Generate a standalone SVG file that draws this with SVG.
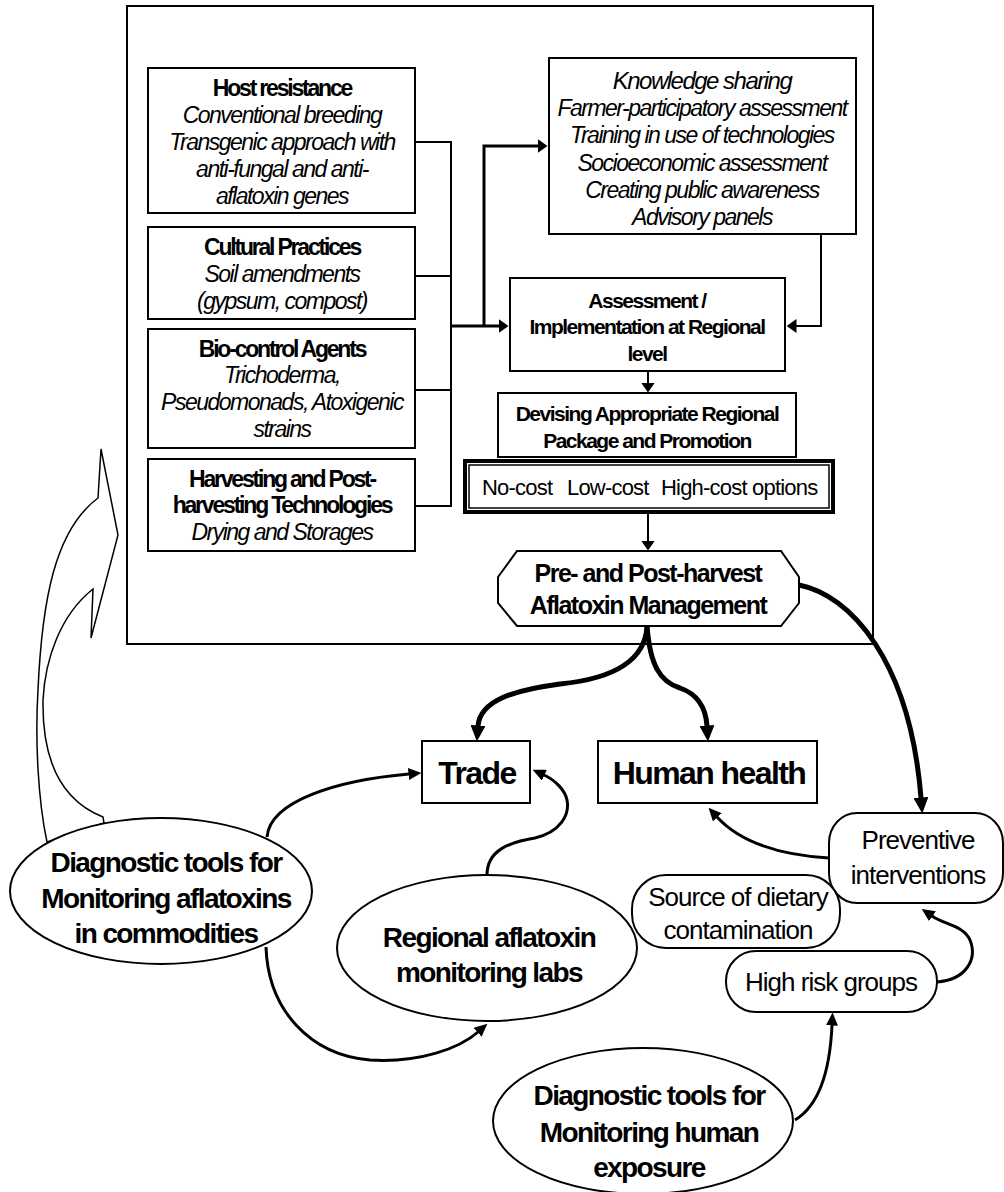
<svg xmlns="http://www.w3.org/2000/svg" width="1004" height="1192" viewBox="0 0 1004 1192">
<defs>
<style>
text{font-family:"Liberation Sans",Arial,sans-serif;fill:#000;text-anchor:middle}
.t{font-size:23px}
.b{font-weight:bold;letter-spacing:-2.2px}
.i{font-style:italic;letter-spacing:-1.5px}
.m{font-size:21px;font-weight:bold;letter-spacing:-1.5px}
.c{font-size:22px;letter-spacing:-0.8px;text-anchor:start}
.h{font-size:25px;font-weight:bold;letter-spacing:-1.5px}
.big{font-size:32px;font-weight:bold;letter-spacing:-1.6px}
.r{font-size:26px;letter-spacing:-1px}
.e{font-size:28px;font-weight:bold;letter-spacing:-1.6px}
.box{fill:#fff;stroke:#000;stroke-width:2}
.ln{fill:none;stroke:#000;stroke-width:2}
.ln3{fill:none;stroke:#000;stroke-width:3}
.thick{fill:none;stroke:#000;stroke-width:5}
</style>
<marker id="at" markerUnits="userSpaceOnUse" markerWidth="10" markerHeight="14" viewBox="0 0 10 14" refX="0.5" refY="7" orient="auto"><path d="M0,0 L10,7 L0,14 Z" fill="#000"/></marker>
<marker id="am" markerUnits="userSpaceOnUse" markerWidth="13" markerHeight="12" viewBox="0 0 13 12" refX="0.5" refY="6" orient="auto"><path d="M0,0 L13,6 L0,12 Z" fill="#000"/></marker>
<marker id="ab" markerUnits="userSpaceOnUse" markerWidth="16" markerHeight="15" viewBox="0 0 16 15" refX="0.5" refY="7.5" orient="auto"><path d="M0,0 L16,7.5 L0,15 Z" fill="#000"/></marker>
</defs>
<rect width="1004" height="1192" fill="#fff"/>

<g id="frame"><rect x="127" y="6" width="746" height="638" fill="none" stroke="#000" stroke-width="2"/></g>

<g id="connectors">
<path class="ln" d="M415,142 H451 M415,276 H451 M415,390 H451 M415,506 H451 M451,141 V507"/>
<path class="ln3" d="M451,326 H499" marker-end="url(#at)"/>
<path class="ln3" d="M484,327 V146 H538" marker-end="url(#at)"/>
<path class="ln" d="M821,234 V326 H796" marker-end="url(#at)"/>
<path class="ln" d="M648,371 V383" marker-end="url(#at)"/>
<path class="ln" d="M648,514 V541" marker-end="url(#at)"/>
<path class="thick" d="M647,626 C645,668 600,680 560,684 C515,690 480,700 478,726" marker-end="url(#ab)"/>
<path class="thick" d="M647,626 C650,665 660,682 680,688 C700,695 706,710 707,726" marker-end="url(#ab)"/>
<path class="thick" d="M799,585 C850,595 910,660 921,798" marker-end="url(#ab)"/>
<path class="ln3" d="M829,858 C780,855 740,842 717,817" marker-end="url(#am)"/>
<path class="ln3" d="M267,837 C270,800 340,780 409,774" marker-end="url(#am)"/>
<path class="ln3" d="M266,947 C268,1010 310,1055 370,1060 C420,1063 460,1048 478,1032" marker-end="url(#am)"/>
<path class="ln3" d="M487,875 C487,850 510,842 535,838 C560,832 570,815 567,800 C565,790 555,780 544,775" marker-end="url(#am)"/>
<path class="ln3" d="M795,1120 C820,1105 830,1070 832,1025" marker-end="url(#am)"/>
<path class="ln3" d="M937,982 C965,980 978,960 970,940 C963,925 945,925 932,916" marker-end="url(#am)"/>
<path d="M47,842 C38,800 35,740 38,690 C42,600 55,530 98,498 L101,449 L118,535 L91,638 L93,589 C60,615 45,660 43,700 C42,760 60,800 103,817 L104,823 Z" fill="#fff" stroke="#000" stroke-width="1.5"/>
</g>

<g id="host">
<rect class="box" x="148" y="68" width="267" height="145"/>
<text class="t b" x="282" y="96">Host resistance</text>
<text class="t i" x="282" y="123">Conventional breeding</text>
<text class="t i" x="282" y="150">Transgenic approach with</text>
<text class="t i" x="282" y="177">anti-fungal and anti-</text>
<text class="t i" x="282" y="204">aflatoxin genes</text>
</g>
<g id="cultural">
<rect class="box" x="148" y="227" width="267" height="92"/>
<text class="t b" x="282" y="255">Cultural Practices</text>
<text class="t i" x="282" y="282">Soil amendments</text>
<text class="t i" x="282" y="309">(gypsum, compost)</text>
</g>
<g id="biocontrol">
<rect class="box" x="148" y="329" width="267" height="119"/>
<text class="t b" x="282" y="357">Bio-control Agents</text>
<text class="t i" x="282" y="383">Trichoderma,</text>
<text class="t i" x="282" y="410">Pseudomonads, Atoxigenic</text>
<text class="t i" x="282" y="437">strains</text>
</g>
<g id="harvesting">
<rect class="box" x="148" y="459" width="267" height="92"/>
<text class="t b" x="282" y="487">Harvesting and Post-</text>
<text class="t b" x="282" y="513">harvesting Technologies</text>
<text class="t i" x="282" y="540">Drying and Storages</text>
</g>
<g id="knowledge">
<rect class="box" x="549" y="58" width="307" height="176"/>
<text class="i" style="font-size:24px" x="702" y="89">Knowledge sharing</text>
<text class="t i" x="702" y="116">Farmer-participatory assessment</text>
<text class="t i" x="702" y="143">Training in use of technologies</text>
<text class="t i" x="702" y="171">Socioeconomic assessment</text>
<text class="t i" x="702" y="198">Creating public awareness</text>
<text class="t i" x="702" y="225">Advisory panels</text>
</g>
<g id="assessment">
<rect class="box" x="510" y="278" width="275" height="93"/>
<text class="m" x="647" y="308">Assessment /</text>
<text class="m" x="647" y="334">Implementation at Regional</text>
<text class="m" x="647" y="361">level</text>
</g>
<g id="devising">
<rect class="box" x="498" y="393" width="298" height="64"/>
<text class="m" x="647" y="421">Devising Appropriate Regional</text>
<text class="m" x="647" y="448">Package and Promotion</text>
</g>
<g id="options">
<rect x="465" y="461" width="368" height="51" fill="#fff" stroke="#000" stroke-width="4"/>
<rect x="469" y="465" width="360" height="43" fill="none" stroke="#000" stroke-width="1.5"/>
<text class="c" x="482" y="495">No-cost</text>
<text class="c" x="567" y="495">Low-cost</text>
<text class="c" x="661" y="495">High-cost options</text>
</g>
<g id="management">
<path class="box" d="M517,551 L781,551 L799,577 L799,603 L781,626 L517,626 L498,603 L498,577 Z"/>
<text class="h" x="648" y="582">Pre- and Post-harvest</text>
<text class="h" x="648" y="614">Aflatoxin Management</text>
</g>
<g id="trade">
<rect class="box" x="422" y="741" width="108" height="62"/>
<text class="big" x="477" y="784">Trade</text>
</g>
<g id="health">
<rect class="box" x="598" y="741" width="219" height="62"/>
<text class="big" x="709" y="784">Human health</text>
</g>
<g id="preventive">
<rect class="box" x="829" y="813" width="174" height="90" rx="28" ry="30"/>
<text class="r" x="918" y="849">Preventive</text>
<text class="r" x="918" y="884">interventions</text>
</g>
<g id="source">
<rect class="box" x="632" y="875" width="208" height="73" rx="34" ry="34"/>
<text class="r" x="738" y="906">Source of dietary</text>
<text class="r" x="738" y="939">contamination</text>
</g>
<g id="highrisk">
<rect class="box" x="726" y="951" width="211" height="61" rx="30" ry="30"/>
<text class="r" x="831" y="991">High risk groups</text>
</g>
<g id="diag-commodities">
<ellipse class="box" cx="161" cy="891" rx="151" ry="73"/>
<text class="e" x="166" y="872">Diagnostic tools for</text>
<text class="e" x="166" y="908">Monitoring aflatoxins</text>
<text class="e" x="166" y="943">in commodities</text>
</g>
<g id="regional-labs">
<ellipse class="box" cx="487" cy="948" rx="150" ry="73"/>
<text class="e" x="489" y="947">Regional aflatoxin</text>
<text class="e" x="489" y="982">monitoring labs</text>
</g>
<g id="diag-human">
<ellipse class="box" cx="643" cy="1121" rx="150" ry="73"/>
<text class="e" x="649" y="1105">Diagnostic tools for</text>
<text class="e" x="649" y="1142">Monitoring human</text>
<text class="e" x="649" y="1177">exposure</text>
</g>
</svg>
